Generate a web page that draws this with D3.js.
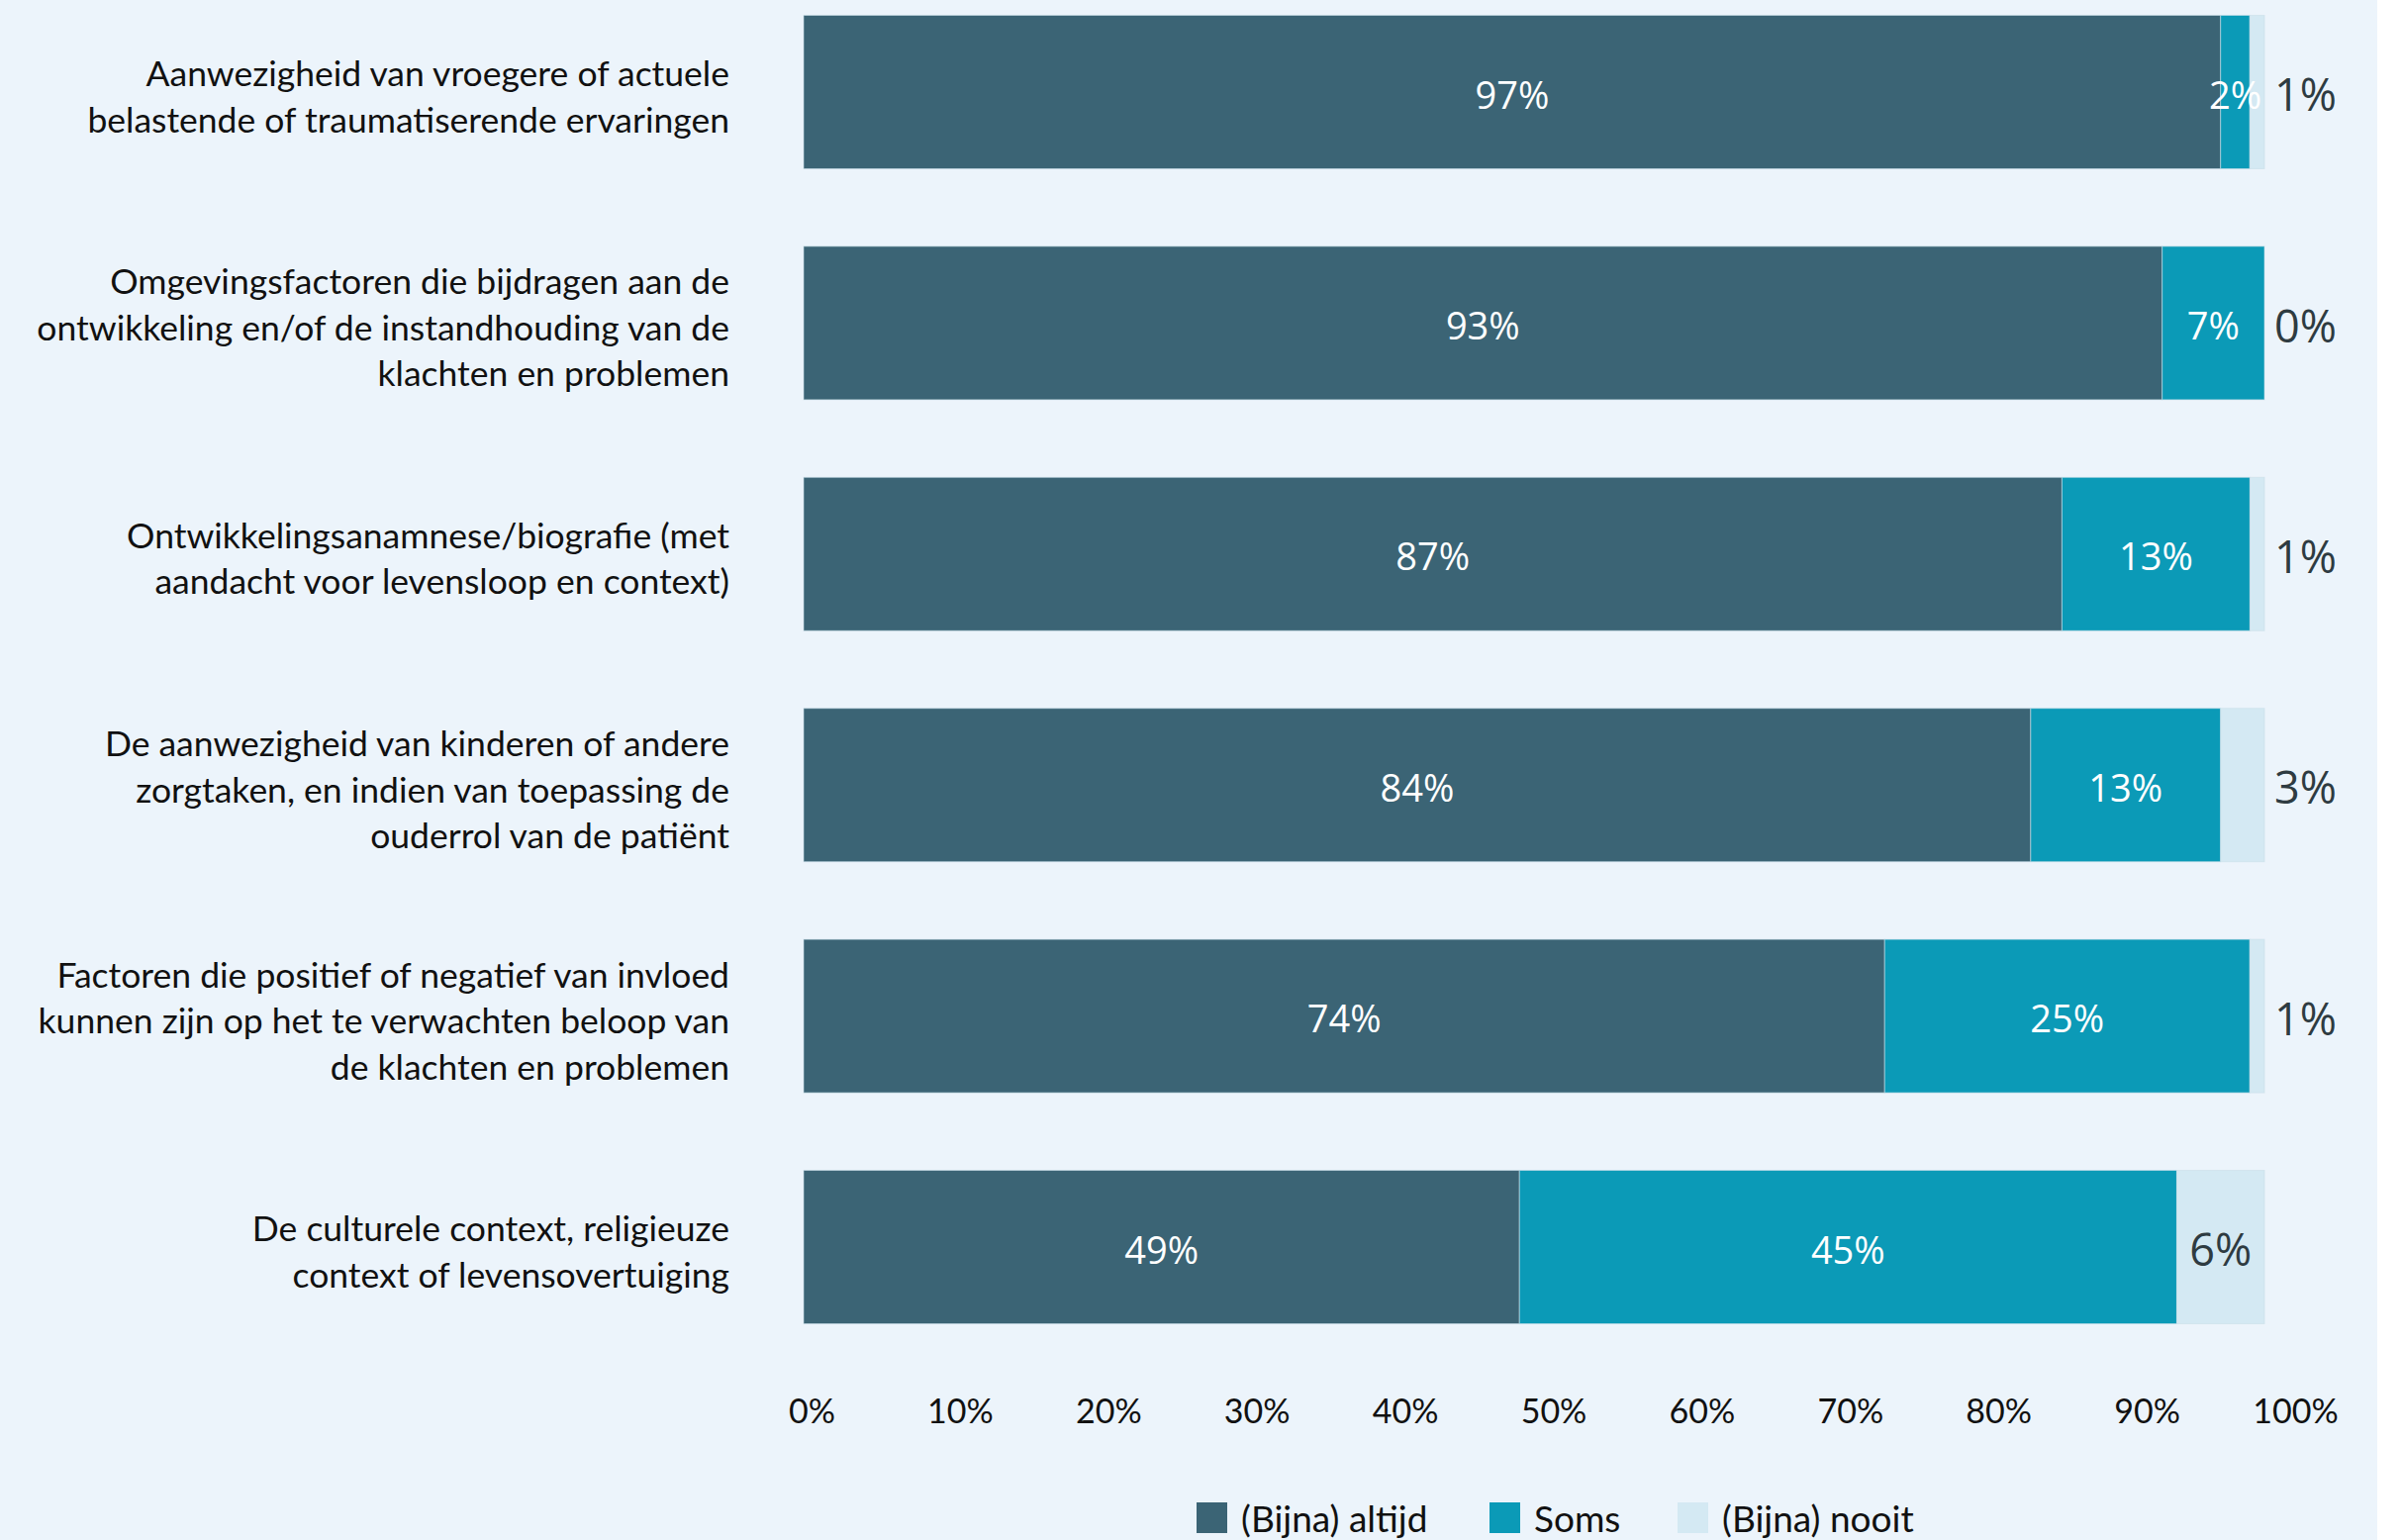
<!DOCTYPE html>
<html lang="nl">
<head>
<meta charset="utf-8">
<title>Anamnese onderwerpen</title>
<script src="https://cdn.jsdelivr.net/npm/d3@7"></script>
<style>
  body { margin: 0; background: #ffffff; }
  svg { display: block; }
  .cat { font-family: Lato, "Open Sans", sans-serif; font-size: 35.5px; fill: #111; }
  .axis text { font-family: Lato, "Open Sans", sans-serif; font-size: 34px; fill: #111; }
  .legend text { font-family: Lato, "Open Sans", sans-serif; font-size: 37px; fill: #111; }
</style>
</head>
<body>
<script>

// data
var categories = [
  "Aanwezigheid van vroegere of actuele|belastende of traumatiserende ervaringen",
  "Omgevingsfactoren die bijdragen aan de|ontwikkeling en/of de instandhouding van de|klachten en problemen",
  "Ontwikkelingsanamnese/biografie (met|aandacht voor levensloop en context)",
  "De aanwezigheid van kinderen of andere|zorgtaken, en indien van toepassing de|ouderrol van de patiënt",
  "Factoren die positief of negatief van invloed|kunnen zijn op het te verwachten beloop van|de klachten en problemen",
  "De culturele context, religieuze|context of levensovertuiging"
];
var altijd = [97, 93, 87, 84, 74, 49];
var soms   = [2, 7, 13, 13, 25, 45];
var nooit  = [1, 0, 1, 3, 1, 6];
var seriesNames = ["(Bijna) altijd", "Soms", "(Bijna) nooit"];
var xTicks = [0, 10, 20, 30, 40, 50, 60, 70, 80, 90, 100];

var colors = ["#3b6475", "#0b9ab7", "#d4e9f3"];

var width = 2427, height = 1556;

var rows = categories.map(function(c, i) {
  return { cat: c, "(Bijna) altijd": altijd[i], "Soms": soms[i], "(Bijna) nooit": nooit[i] };
});

var svg = d3.select("body").append("svg")
  .attr("width", width)
  .attr("height", height);

svg.append("rect")
  .attr("x", 0).attr("y", 0)
  .attr("width", 2402).attr("height", height)
  .attr("fill", "#ecf4fb");

var stack = d3.stack()
  .keys(seriesNames)
  .offset(d3.stackOffsetExpand);
var stacked = stack(rows);

var x = d3.scaleLinear().domain([0, 1]).range([812, 2288]);
var xAxisScale = d3.scaleLinear().domain([0, 100]).range([820, 2319]);

var y = d3.scaleBand()
  .domain(categories)
  .range([15.5, 1337.5])
  .paddingInner(0.336)
  .paddingOuter(0);

// bars
var layers = svg.selectAll("g.layer")
  .data(stacked)
  .enter().append("g")
  .attr("class", "layer")
  .attr("fill", function(d, i) { return colors[i]; });

layers.selectAll("rect")
  .data(function(d) { return d; })
  .enter().append("rect")
  .attr("x", function(d) { return x(d[0]); })
  .attr("y", function(d) { return y(d.data.cat); })
  .attr("width", function(d) { return Math.max(0, x(d[1]) - x(d[0])); })
  .attr("height", y.bandwidth())
  .attr("stroke", "#c9dde8")
  .attr("stroke-width", 1)
  .attr("stroke-opacity", 0.6);

// value labels, drawn after all bars so none get covered
var labelLayers = svg.selectAll("g.labels")
  .data(stacked)
  .enter().append("g")
  .attr("class", "labels");

labelLayers.each(function(layer, li) {
  d3.select(this).selectAll("text")
    .data(layer)
    .enter().append("text")
    .attr("font-family", "'Open Sans', 'Noto Sans', sans-serif")
    .attr("font-size", li === 2 ? 45 : 38)
    .attr("fill", li === 2 ? "#2e3b41" : "#ffffff")
    .attr("dy", "0.36em")
    .attr("y", function(d) { return y(d.data.cat) + y.bandwidth() / 2 + 3; })
    .attr("x", function(d) {
      var w = x(d[1]) - x(d[0]);
      if (li === 2 && w < 70) return x(d[1]) + 10;
      return (x(d[0]) + x(d[1])) / 2;
    })
    .attr("text-anchor", function(d) {
      var w = x(d[1]) - x(d[0]);
      return (li === 2 && w < 70) ? "start" : "middle";
    })
    .text(function(d) { return d.data[layer.key] + "%"; });
});

// category labels
var catG = svg.append("g");
categories.forEach(function(c) {
  var lines = c.split("|");
  var cy = y(c) + y.bandwidth() / 2 + 5;
  var lh = 46.5;
  var t = catG.append("text")
    .attr("class", "cat")
    .attr("text-anchor", "end")
    .attr("x", 737)
    .attr("y", cy - (lines.length - 1) * lh / 2);
  lines.forEach(function(l, i) {
    t.append("tspan")
      .attr("x", 737)
      .attr("dy", i === 0 ? "0.35em" : lh)
      .text(l);
  });
});

// x axis
var xAxis = d3.axisBottom(xAxisScale)
  .tickValues(xTicks)
  .tickSize(0)
  .tickPadding(0)
  .tickFormat(function(d) { return d + "%"; });

var axisG = svg.append("g")
  .attr("class", "axis")
  .attr("transform", "translate(0,1414)")
  .call(xAxis);
axisG.select(".domain").remove();
axisG.selectAll("text").attr("dy", "0.71em").attr("fill", "#111");

// legend
var legendX = [1209, 1505, 1695];
var legend = svg.append("g").attr("class", "legend");
seriesNames.forEach(function(s, i) {
  legend.append("rect")
    .attr("x", legendX[i]).attr("y", 1518)
    .attr("width", 31).attr("height", 31)
    .attr("fill", colors[i]);
  legend.append("text")
    .attr("x", legendX[i] + 45)
    .attr("y", 1548)
    .text(s);
});

</script>
</body>
</html>
